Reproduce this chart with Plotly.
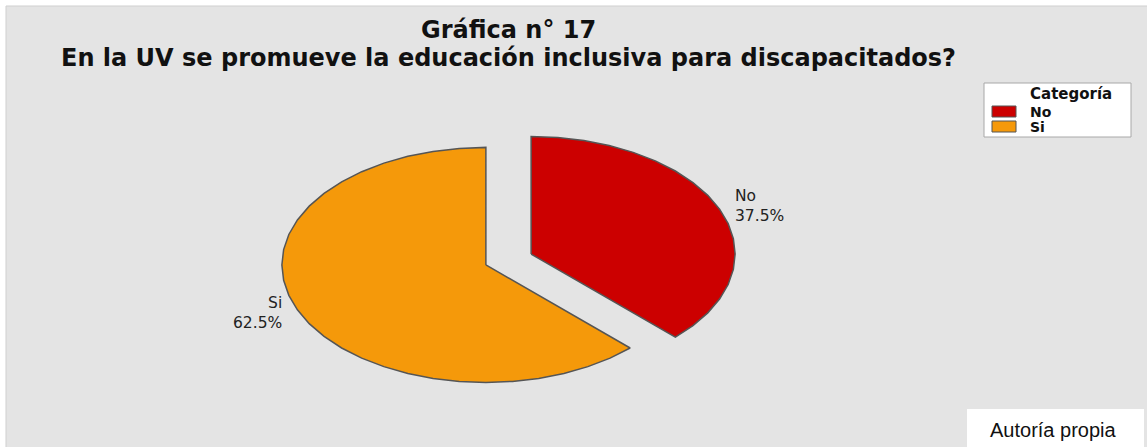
import math
import plotly.graph_objects as go

# ---------------- data ----------------
categories = ["No", "Si"]
percentages = [37.5, 62.5]
slice_colors = ["#cc0000", "#f5990a"]
title_line1 = "Gráfica n° 17"
title_line2 = "En la UV se promueve la educación inclusiva para discapacitados?"
legend_title = "Categoría"
source_note = "Autoría propia"

# ---------------- layout constants (pixels) ----------------
W, H = 1147, 447
CX, CY = 508.5, 259.5      # pie centre in pixels
RX, RY = 204.0, 117.5      # stretched pie radii in pixels
EXPLODE = 0.12             # radial pull of each slice (fraction of radius)
STEP = 7.5                 # polygon step, degrees
LABEL_R = 1.07


def px(x):
    return x / W


def py(y):
    return 1 - y / H


fig = go.Figure()

# ---------------- pie slices as filled polygons ----------------
total = sum(percentages)
start = 0.0
label_anns = []
for cat, val, col in zip(categories, percentages, slice_colors):
    span = 360.0 * val / total
    end = start + span
    mid = math.radians(start + span / 2)
    ox, oy = EXPLODE * math.sin(mid), EXPLODE * math.cos(mid)
    n = max(2, int(round(span / STEP)))
    xs, ys = [ox], [oy]
    for i in range(n + 1):
        a = math.radians(start + span * i / n)
        xs.append(ox + math.sin(a))
        ys.append(oy + math.cos(a))
    xs.append(ox)
    ys.append(oy)
    fig.add_trace(go.Scatter(
        x=xs, y=ys, mode="lines", fill="toself", fillcolor=col,
        line=dict(color="#555555", width=1.5), name=cat,
        hoverinfo="name", showlegend=False,
    ))
    lx = ox + LABEL_R * math.sin(mid)
    ly = oy + LABEL_R * math.cos(mid)
    label_anns.append(dict(
        x=lx, y=ly, xref="x", yref="y", showarrow=False,
        text=f"{cat}<br>{val:.1f}%",
        xanchor="left" if math.sin(mid) >= 0 else "right",
        yanchor="middle",
        align="left" if math.sin(mid) >= 0 else "right",
        font=dict(family="DejaVu Sans", size=15.5, color="#222222"),
    ))
    start = end

# ---------------- background panel, legend, source box ----------------
shapes = [
    dict(type="rect", xref="paper", yref="paper", layer="below",
         x0=px(6), x1=px(W + 2), y0=py(H + 2), y1=py(6),
         fillcolor="#e4e4e4", line=dict(color="#cfcfcf", width=1)),
    dict(type="rect", xref="paper", yref="paper",
         x0=px(984), x1=px(1131), y0=py(137), y1=py(83),
         fillcolor="white", line=dict(color="#a8a8a8", width=1)),
    dict(type="rect", xref="paper", yref="paper",
         x0=px(967), x1=px(1144), y0=py(H + 2), y1=py(409),
         fillcolor="white", line=dict(width=0)),
]
annotations = [
    dict(x=px(508), y=py(30), xref="paper", yref="paper", showarrow=False,
         text=f"<b>{title_line1}</b>", xanchor="center", yanchor="middle",
         font=dict(family="DejaVu Sans", size=24, color="#111111")),
    dict(x=px(508), y=py(58.5), xref="paper", yref="paper", showarrow=False,
         text=f"<b>{title_line2}</b>", xanchor="center", yanchor="middle",
         font=dict(family="DejaVu Sans", size=24, color="#111111")),
    dict(x=px(1029), y=py(93.5), xref="paper", yref="paper", showarrow=False,
         text=f"<b>{legend_title}</b>", xanchor="left", yanchor="middle",
         borderpad=0,
         font=dict(family="DejaVu Sans", size=15, color="#111111")),
    dict(x=px(1053), y=py(430), xref="paper", yref="paper", showarrow=False,
         text=source_note, xanchor="center", yanchor="middle",
         font=dict(family="Liberation Sans", size=20, color="#111111")),
]
row_y = [111.5, 126.5]
for cat, col, yy in zip(categories, slice_colors, row_y):
    shapes.append(dict(type="rect", xref="paper", yref="paper",
                       x0=px(992), x1=px(1016), y0=py(yy + 5.5), y1=py(yy - 5.5),
                       fillcolor=col, line=dict(color="#555555", width=1)))
    annotations.append(dict(x=px(1029), y=py(yy), xref="paper", yref="paper",
                            showarrow=False, text=f"<b>{cat}</b>",
                            xanchor="left", yanchor="middle", borderpad=0,
                            font=dict(family="DejaVu Sans", size=14, color="#111111")))

annotations.extend(label_anns)

fig.update_layout(
    width=W, height=H,
    margin=dict(l=0, r=0, t=0, b=0),
    paper_bgcolor="white", plot_bgcolor="rgba(0,0,0,0)",
    xaxis=dict(range=[-CX / RX, (W - CX) / RX], visible=False, fixedrange=True),
    yaxis=dict(range=[-(H - CY) / RY, CY / RY], visible=False, fixedrange=True),
    shapes=shapes, annotations=annotations, showlegend=False,
)

fig.write_html(
    "out.html",
    config={"displayModeBar": False},
    post_script="document.body.style.margin='0';document.body.style.padding='0';"
                "document.documentElement.style.overflow='hidden';",
)
